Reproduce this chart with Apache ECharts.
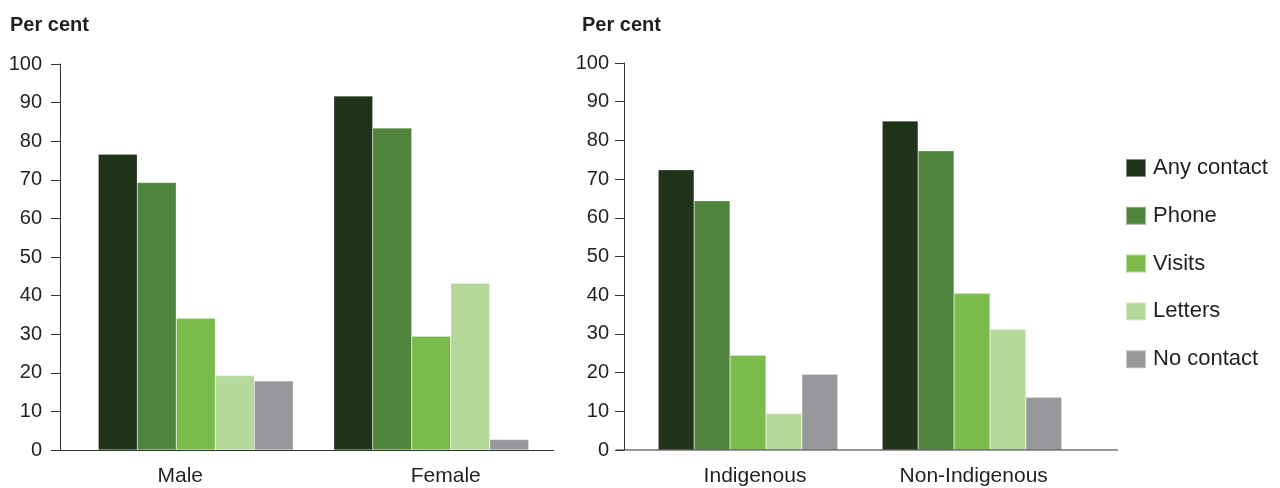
<!DOCTYPE html>
<html><head><meta charset="utf-8">
<script src="https://cdn.jsdelivr.net/npm/echarts@6/dist/echarts.min.js"></script>
<style>html,body{margin:0;padding:0;background:#fff}#c{width:1280px;height:488px}</style>
</head><body><div id="c"></div>
<script>
// ---- data ----
const seriesNames = ['Any contact', 'Phone', 'Visits', 'Letters', 'No contact'];
const sexCategories = ['Male', 'Female'];
const statusCategories = ['Indigenous', 'Non-Indigenous'];
const yAxisTitle = 'Per cent';

const sexAnyContact = [76.6, 91.7];
const sexPhone = [69.3, 83.4];
const sexVisits = [34.1, 29.5];
const sexLetters = [19.3, 43.2];
const sexNoContact = [17.9, 2.7];

const statusAnyContact = [72.4, 85.0];
const statusPhone = [64.4, 77.3];
const statusVisits = [24.5, 40.5];
const statusLetters = [9.4, 31.2];
const statusNoContact = [19.6, 13.6];

// ---- styling ----
const colors = ['#1f3319', '#50843c', '#7bbb4c', '#b7d89b', '#97989b'];
const textColor = '#231f20';
const axisColor = '#333';
const FONT = 'Liberation Sans, Arial, sans-serif';

const sexData = [sexAnyContact, sexPhone, sexVisits, sexLetters, sexNoContact];
const statusData = [statusAnyContact, statusPhone, statusVisits, statusLetters, statusNoContact];

const grids = [
  { left: 78, top: 64, width: 471, height: 386 },
  { left: 636, top: 63, width: 448, height: 387 }
];

function catAxis(idx, cats, shifts) {
  const rich = {};
  shifts.forEach((s, i) => {
    rich['c' + i] = {
      fontSize: 21, fontFamily: FONT, color: textColor,
      padding: s < 0 ? [0, -2 * s, 0, 0] : [0, 0, 0, 2 * s]
    };
  });
  return {
    type: 'category', gridIndex: idx, data: cats,
    axisLine: { show: false },
    axisTick: { show: false },
    axisLabel: {
      interval: 0, margin: 16, fontSize: 21, fontFamily: FONT, color: textColor,
      formatter: (v, i) => '{c' + i + '|' + v + '}', rich: rich
    }
  };
}
function valAxis(idx, offset, margin) {
  return {
    type: 'value', gridIndex: idx, min: 0, max: 100, interval: 10, offset: offset,
    axisLine: { show: true, lineStyle: { color: axisColor, width: 1 } },
    axisTick: { show: true, length: 9, lineStyle: { color: axisColor, width: 1 } },
    splitLine: { show: false },
    axisLabel: { margin: margin, fontSize: 20, fontFamily: FONT, color: textColor }
  };
}

const series = [];
seriesNames.forEach((name, i) => {
  series.push({
    name: name, type: 'bar', xAxisIndex: 0, yAxisIndex: 0, data: sexData[i],
    barGap: '0%', barCategoryGap: '17.2%',
    itemStyle: { color: colors[i], borderColor: 'rgba(255,255,255,0.45)', borderWidth: 0.5 },
    emphasis: { disabled: true }
  });
});
seriesNames.forEach((name, i) => {
  series.push({
    name: name, type: 'bar', xAxisIndex: 1, yAxisIndex: 1, data: statusData[i],
    barGap: '0%', barCategoryGap: '19.8%',
    itemStyle: { color: colors[i], borderColor: 'rgba(255,255,255,0.45)', borderWidth: 0.5 },
    emphasis: { disabled: true }
  });
});

const chart = echarts.init(document.getElementById('c'), null, { renderer: 'canvas' });
chart.setOption({
  animation: false,
  color: colors,
  textStyle: { fontFamily: FONT },
  title: [
    { text: yAxisTitle, left: 10, top: 15, padding: 0, textStyle: { fontSize: 20, fontWeight: 'bold', color: textColor, fontFamily: FONT } },
    { text: yAxisTitle, left: 582, top: 15, padding: 0, textStyle: { fontSize: 20, fontWeight: 'bold', color: textColor, fontFamily: FONT } }
  ],
  legend: {
    data: seriesNames, orient: 'vertical', left: 1125, top: 157, padding: 0,
    itemWidth: 20, itemHeight: 18, itemGap: 25.8, icon: 'rect',
    selectedMode: false,
    textStyle: { fontSize: 22, lineHeight: 18, color: textColor, fontFamily: FONT, padding: [0, 0, 0, 2] }
  },
  grid: grids,
  xAxis: [
    catAxis(0, sexCategories, [-15.5, 14.5]),
    catAxis(1, statusCategories, [7, 1.7])
  ],
  yAxis: [valAxis(0, 18, 18), valAxis(1, 12, 15)],
  series: series,
  graphic: [
    { type: 'line', shape: { x1: 55, y1: 450.5, x2: 554, y2: 450.5 }, style: { stroke: axisColor, lineWidth: 1 }, z: 10 },
    { type: 'line', shape: { x1: 616, y1: 450, x2: 1118, y2: 450 }, style: { stroke: axisColor, lineWidth: 1 }, z: 10 }
  ]
});
</script>
</body></html>
